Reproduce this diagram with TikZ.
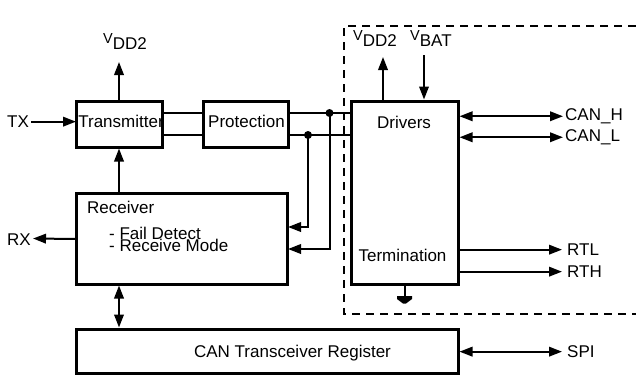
\documentclass[tikz,border=0pt]{standalone}
\usepackage{fontspec}
\setmainfont{Liberation Sans}
\usetikzlibrary{arrows.meta}
\newcommand{\fsmain}{\fontsize{17}{19}\selectfont}
\newcommand{\fsv}{\fontsize{14.5}{16}\selectfont}
\begin{document}
\begin{tikzpicture}[x=1pt,y=-1pt,
  font=\fsmain,
  box/.style={draw,line width=3pt,inner sep=0pt,outer sep=0pt},
  txt/.style={inner sep=0pt},
  lbl/.style={inner sep=2pt},
  conn/.style={line width=2pt},
  arr/.style={conn,-{Triangle[length=13pt,width=9.5pt]}},
  biarr/.style={conn,{Triangle[length=13pt,width=9.5pt]}-{Triangle[length=13pt,width=9.5pt]}},
  dot/.style={circle,fill,inner sep=0pt,minimum size=8pt}]
\useasboundingbox (0,0) rectangle (636,375);

% dashed boundary
\draw[line width=2pt,dash pattern=on 8pt off 6pt] (636,26) -- (344,26) -- (344,314) -- (636,314);

% boxes
\node[box,minimum width=86pt,minimum height=46pt] (tx) at (119,124) {};
\node[box,minimum width=85pt,minimum height=46pt] (prot) at (245.5,124) {};
\node[box,minimum width=107pt,minimum height=183pt] (drv) at (404.5,192.5) {};
\node[box,minimum width=211pt,minimum height=91pt] (rcv) at (181.5,238.5) {};
\node[box,minimum width=382pt,minimum height=44pt] (reg) at (267,351) {};

% box texts
\node[txt,anchor=base] (txt1) at (121,127.5) {Transmitter};
\node[txt,anchor=base] (txt2) at (246.5,127.5) {Protection};
\node[txt,anchor=base] (txt3) at (404,128) {Drivers};
\node[txt,anchor=base] (txt4) at (402.5,261.5) {Termination};
\node[txt,anchor=base west] (txt5) at (87,213) {Receiver};
\node[txt,anchor=base west] (txt6) at (109,239) {- Fail Detect};
\node[txt,anchor=base west] (txt7) at (109,251) {- Receive Mode};
\node[txt,anchor=base] (txt8) at (292.5,357) {CAN Transceiver Register};

% outside labels
\node[lbl,anchor=base west] (txl) at (5,127.5) {TX};
\node[lbl,anchor=base west] (rxl) at (5,245) {RX};
\node[lbl,anchor=base west] (canh) at (563,120.5) {CAN\_H};
\node[lbl,anchor=base west] (canl) at (563,141.5) {CAN\_L};
\node[lbl,anchor=base west] (rtl) at (565,255.5) {RTL};
\node[lbl,anchor=base west] (rth) at (565,277.5) {RTH};
\node[lbl,anchor=base west] (spi) at (565,357.5) {SPI};
\node[txt,anchor=base west] (vdd1) at (103,43) {\fsv V\raisebox{-6pt}{\fsmain DD2}};
\node[txt,anchor=base west] (vdd2) at (353,40.5) {\fsv V\raisebox{-6pt}{\fsmain DD2}};
\node[txt,anchor=base west] (vbat) at (410,40.5) {\fsv V\raisebox{-6pt}{\fsmain BAT}};

% coordinates
\coordinate (j1) at (329.5,113);
\coordinate (j2) at (308,135);
\coordinate (v1e) at (119,62);
\coordinate (v2e) at (383,57);
\coordinate (vbs) at (424,55);
\coordinate (g) at (404.5,296);

% connectors
\draw[arr] (txl.east) -- (tx.west |- txl.east);
\draw[arr] (tx.north) -- (v1e);
\draw[conn] ([yshift=11pt]tx.east) -- ([yshift=11pt]prot.west);
\draw[conn] ([yshift=-11pt]tx.east) -- ([yshift=-11pt]prot.west);
\draw[conn] ([yshift=11pt]prot.east) -- (drv.west |- j1);
\draw[conn] ([yshift=-11pt]prot.east) -- (drv.west |- j2);
\node[dot] at (j1) {};
\node[dot] at (j2) {};
\draw[arr,shorten >=1pt] (j2) |- ([yshift=11.5pt]rcv.east);
\draw[arr,shorten >=1pt] (j1) |- ([yshift=-10.5pt]rcv.east);
\draw[arr,shorten >=1.5pt] (rcv.north -| tx.south) -- (tx.south);
\draw[arr] ([yshift=-0.5pt]rcv.west) -- (rxl.east |- rcv.west);
\draw[biarr,shorten <=1.5pt,shorten >=1.5pt] (rcv.south -| tx.south) -- (reg.north -| tx.south);
\draw[arr] (drv.north -| v2e) -- (v2e);
\draw[arr,shorten >=1.5pt] (vbs) -- (drv.north -| vbs);
\draw[biarr,shorten <=1.5pt] (drv.east |- canh.west) -- (canh.west);
\draw[biarr,shorten <=1.5pt] (drv.east |- canl.west) -- (canl.west);
\draw[arr,shorten >=3pt] (drv.east |- rtl.west) -- (rtl.west);
\draw[arr,shorten >=3pt] (drv.east |- rth.west) -- (rth.west);
\draw[biarr,shorten <=1.5pt,shorten >=3pt] (reg.east |- spi.west) -- (spi.west);

% ground
\draw[conn] (drv.south -| g) -- (g);
\fill ([xshift=-7.5pt]g) -- ([xshift=7.5pt]g) -- ([xshift=7.5pt,yshift=-3pt]g)
  -- ([xshift=1.5pt,yshift=-7.5pt]g) -- ([xshift=-1.5pt,yshift=-7.5pt]g)
  -- ([xshift=-7.5pt,yshift=-3pt]g) -- cycle;
\end{tikzpicture}
\end{document}
